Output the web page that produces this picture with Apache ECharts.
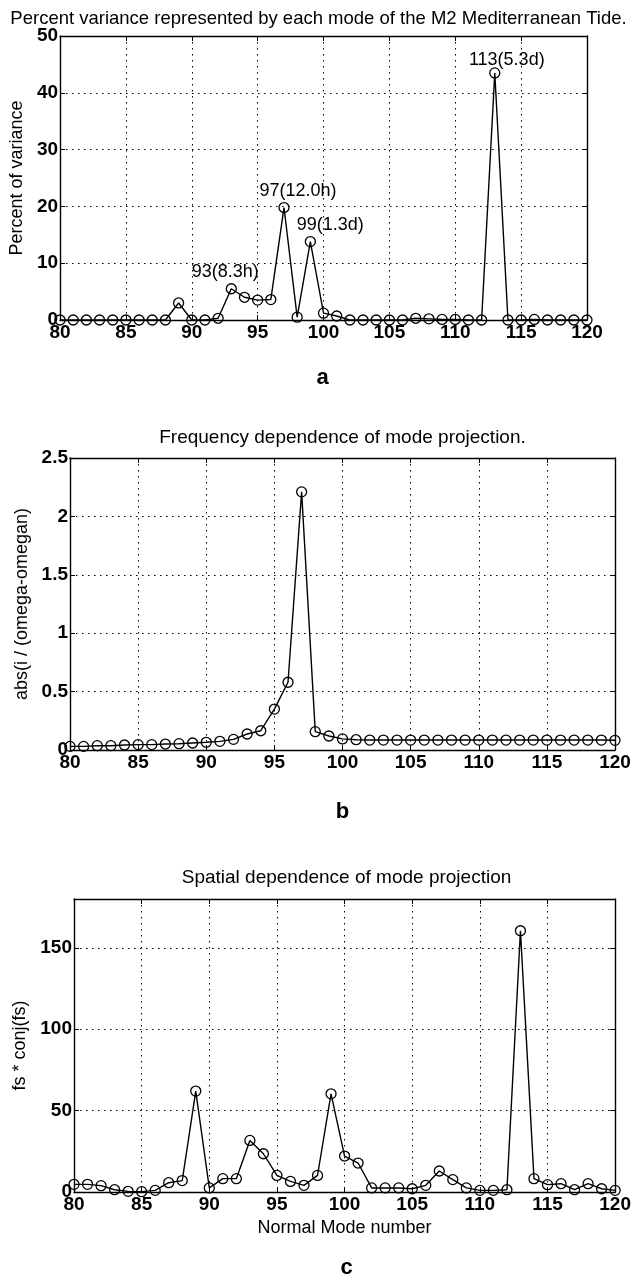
<!DOCTYPE html>
<html>
<head>
<meta charset="utf-8">
<script src="https://cdn.jsdelivr.net/npm/echarts@6/dist/echarts.min.js"></script>
<style>
html,body{margin:0;padding:0;background:#fff;}
#chart{width:634px;height:1279px;}
</style>
</head>
<body>
<div id="chart"></div>
<script>
// ---------- DATA ----------
const modes = [80,81,82,83,84,85,86,87,88,89,90,91,92,93,94,95,96,97,98,99,100,
               101,102,103,104,105,106,107,108,109,110,111,112,113,114,115,116,117,118,119,120];

const xTickLabels = ['80','85','90','95','100','105','110','115','120'];

// Panel a: Percent of variance
const percentVariance = [0,0,0,0,0,0,0,0,0,3.0,0,0,0.3,5.5,4.0,3.5,3.6,19.8,0.5,13.8,1.2,
                         0.7,0,0,0,0,0,0.3,0.2,0.1,0.1,0,0,43.5,0,0,0.1,0,0,0,0];
const peakModes = [93,97,99,113];
const peakTexts = ['93(8.3h)','97(12.0h)','99(1.3d)','113(5.3d)'];

// Panel b: abs(i / (omega-omegan))
const freqDependence = [0.031,0.031,0.037,0.037,0.043,0.046,0.046,0.051,0.054,0.060,0.066,
                        0.074,0.091,0.137,0.165,0.35,0.58,2.21,0.157,0.12,0.095,
                        0.088,0.085,0.085,0.085,0.085,0.085,0.085,0.085,0.085,0.085,
                        0.085,0.085,0.085,0.085,0.085,0.085,0.085,0.085,0.085,0.083];

// Panel c: fs * conj(fs)
const spatialDependence = [4.7,4.7,3.9,1.4,0.4,0.2,1.0,5.7,7.0,62,2.5,8.2,8.2,31.7,23.5,10.2,6.5,4.1,10.2,60.3,22.1,
                           17.8,2.5,2.5,2.5,2.0,4.1,12.9,7.6,2.5,1.0,1.0,1.4,160.5,8.2,4.5,5.1,1.4,5.1,2.0,1.0];

const titles = ['Percent variance represented by each mode of the M2 Mediterranean Tide.',
                'Frequency dependence of mode projection.',
                'Spatial dependence of mode projection'];
const yNames = ['Percent of variance','abs(i / (omega-omegan)','fs * conj(fs)'];
const xName = 'Normal Mode number';
const panelLetters = ['a','b','c'];

// ---------- LAYOUT / STYLE ----------
const FONT = 'Liberation Sans, Arial, Helvetica, sans-serif';
const grids = [
  {left:58, top:36,  width:529, height:284},
  {left:70, top:458, width:545, height:292},
  {left:74, top:899, width:545, height:293}
];
const yCfg = [
  {min:0, max:50,  interval:10,  nameGap:28, fmt: v => String(v)},
  {min:0, max:2.5, interval:0.5, nameGap:35, fmt: v => String(v)},
  {min:0, max:180, interval:50,  nameGap:37, fmt: v => (v > 150 ? '' : String(v))}
];
const dotted = {type:[1.5,4.5], color:'#000', width:1};
const tickFont = {color:'#000', fontSize:19, fontWeight:'bold', fontFamily:FONT};
const nameFont = {color:'#000', fontSize:18, fontFamily:FONT};

const xAxes = [], yAxes = [], series = [];
grids.forEach((g, i) => {
  xAxes.push({
    gridIndex:i, type:'value', min:80, max:120, interval:5, position:'bottom',
    axisLine:{show:true, onZero:false, lineStyle:{color:'#000', width:1.4}},
    axisTick:{show:true, inside:true, length:5, lineStyle:{color:'#000'}},
    axisLabel:Object.assign({margin:3, formatter: v => xTickLabels[(v - 80) / 5] || ''}, tickFont),
    splitLine:{show:true, lineStyle:dotted},
    name: i === 2 ? xName : '', nameLocation:'middle', nameGap:27,
    nameTextStyle:nameFont
  });
  xAxes.push({
    gridIndex:i, type:'value', min:80, max:120, interval:5, position:'top',
    axisLine:{show:true, onZero:false, lineStyle:{color:'#000', width:1.4}},
    axisTick:{show:true, inside:true, length:5, lineStyle:{color:'#000'}},
    axisLabel:{show:false}, splitLine:{show:false}
  });
  const yc = yCfg[i];
  yAxes.push({
    gridIndex:i, type:'value', min:yc.min, max:yc.max, interval:yc.interval, position:'left',
    axisLine:{show:true, onZero:false, lineStyle:{color:'#000', width:1.4}},
    axisTick:{show:true, inside:true, length:5, lineStyle:{color:'#000'}},
    axisLabel:Object.assign({margin:2, formatter: yc.fmt}, tickFont),
    splitLine:{show:true, lineStyle:dotted},
    name: yNames[i], nameLocation:'middle', nameGap:yc.nameGap, nameRotate:90,
    nameTextStyle:nameFont
  });
  yAxes.push({
    gridIndex:i, type:'value', min:yc.min, max:yc.max, interval:yc.interval, position:'right',
    axisLine:{show:true, onZero:false, lineStyle:{color:'#000', width:1.4}},
    axisTick:{show:true, inside:true, length:5, lineStyle:{color:'#000'}},
    axisLabel:{show:false}, splitLine:{show:false}
  });
});

const labelOffsets = {93:[-6,2], 97:[14,2], 99:[20,2], 113:[12,6]};
function buildData(vals, withPeaks) {
  return modes.map((m, k) => {
    const idx = withPeaks ? peakModes.indexOf(m) : -1;
    if (idx >= 0) {
      return {value:[m, vals[k]], label:{show:true, position:'top', distance:4,
              offset: labelOffsets[m], formatter: peakTexts[idx],
              color:'#000', fontSize:18, fontFamily:FONT}};
    }
    return [m, vals[k]];
  });
}
const panelData = [buildData(percentVariance, true), buildData(freqDependence, false), buildData(spatialDependence, false)];
panelData.forEach((d, i) => {
  series.push({
    type:'line', xAxisIndex:2*i, yAxisIndex:2*i, data:d,
    symbol:'circle', symbolSize:10, showAllSymbol:true,
    itemStyle:{color:'rgba(0,0,0,0)', borderColor:'#000', borderWidth:1.3},
    lineStyle:{color:'#000', width:1.4},
    emphasis:{disabled:true}, silent:true, z:5
  });
});

const graphics = [];
const titleY = [19, 438, 878];
const titleSize = [18.5, 19, 19];
const letterY = [378, 812, 1268];
grids.forEach((g, i) => {
  const cx = g.left + g.width / 2;
  graphics.push({type:'text', x: cx - (i === 0 ? 4 : 0), y: titleY[i],
    style:{text:titles[i], fill:'#000', font: titleSize[i] + 'px ' + FONT, textAlign:'center', textVerticalAlign:'middle'}});
  graphics.push({type:'text', x: cx, y: letterY[i],
    style:{text:panelLetters[i], fill:'#000', font:'bold 22px ' + FONT, textAlign:'center', textVerticalAlign:'middle'}});
});

const chart = echarts.init(document.getElementById('chart'), null, {renderer:'canvas'});
chart.setOption({
  animation:false,
  backgroundColor:'#fff',
  grid: grids.map(g => Object.assign({containLabel:false}, g)),
  xAxis: xAxes,
  yAxis: yAxes,
  series: series,
  graphic: graphics
});
</script>
</body>
</html>
